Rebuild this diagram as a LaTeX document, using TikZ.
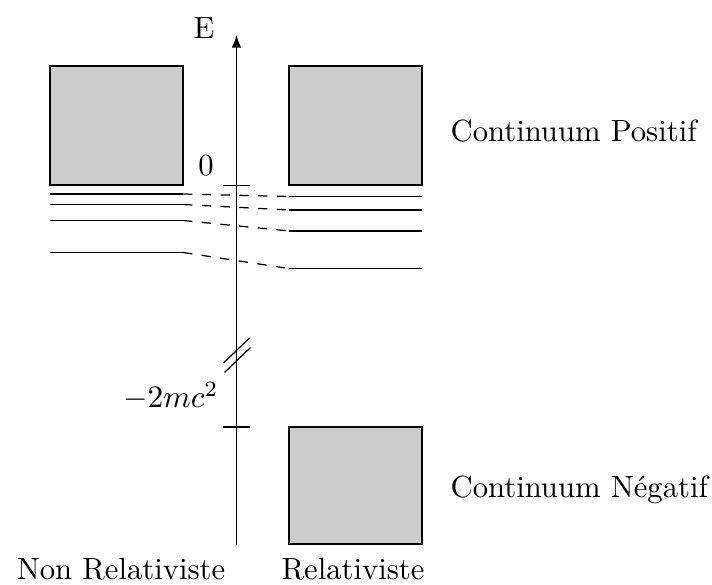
\documentclass[tikz,border=0pt]{standalone}
\usetikzlibrary{arrows.meta}
\begin{document}
\begin{tikzpicture}[x=0.3195pt,y=-0.3195pt,
  band/.style={draw=black,fill=black!20,line width=0.4pt},
  level/.style={line width=0.4pt},
  link/.style={dashed,line width=0.4pt},
  lbl/.style={inner sep=0pt,font=\fontsize{9.8}{12}\selectfont}]
\useasboundingbox (0,0) rectangle (712,585);
% bands
\draw[band] (50,66) rectangle (183,185);
\draw[band] (289,66) rectangle (422,185);
\draw[band] (289,427) rectangle (422,544);
% axis
\coordinate (axb) at (236.5,545);
\coordinate (axt) at (236.5,35);
\draw[-{Latex[length=4pt,width=3pt]},line width=0.4pt] (axb) -- (axt);
\node[lbl,anchor=base] (E) at (204,39) {E};
% ticks
\coordinate (t0a) at (223,185.5); \coordinate (t0b) at (250,185.5);
\draw (t0a) -- (t0b);
\coordinate (t1a) at (223,427); \coordinate (t1b) at (250,427);
\draw (t1a) -- (t1b);
\node[lbl,anchor=base] (zero) at (206,176) {0};
\node[lbl,anchor=base east] (mc) at (219,408) {$-2mc^2$};
% break marks
\coordinate (b1a) at (223.5,363); \coordinate (b1b) at (249.5,338);
\coordinate (b2a) at (224.5,372.5); \coordinate (b2b) at (250.5,347.5);
\draw (b1a) -- (b1b);
\draw (b2a) -- (b2b);
% levels
\foreach \i/\yl/\yr in {1/194/196.5, 2/204.5/210, 3/220.5/231, 4/252.5/268.5}{
  \coordinate (L\i a) at (50,\yl); \coordinate (L\i b) at (183,\yl);
  \coordinate (R\i a) at (289,\yr); \coordinate (R\i b) at (422,\yr);
  \draw[level] (L\i a) -- (L\i b);
  \draw[level] (R\i a) -- (R\i b);
  \draw[link] (L\i b) -- (R\i a);
}
% labels
\node[lbl,anchor=base west] (cp) at (450,142) {Continuum Positif};
\node[lbl,anchor=base west] (cn) at (450,498) {Continuum N\'egatif};
\node[lbl,anchor=base] (nr) at (121,580) {Non Relativiste};
\node[lbl,anchor=base] (rel) at (353,580) {Relativiste};
\end{tikzpicture}
\end{document}
